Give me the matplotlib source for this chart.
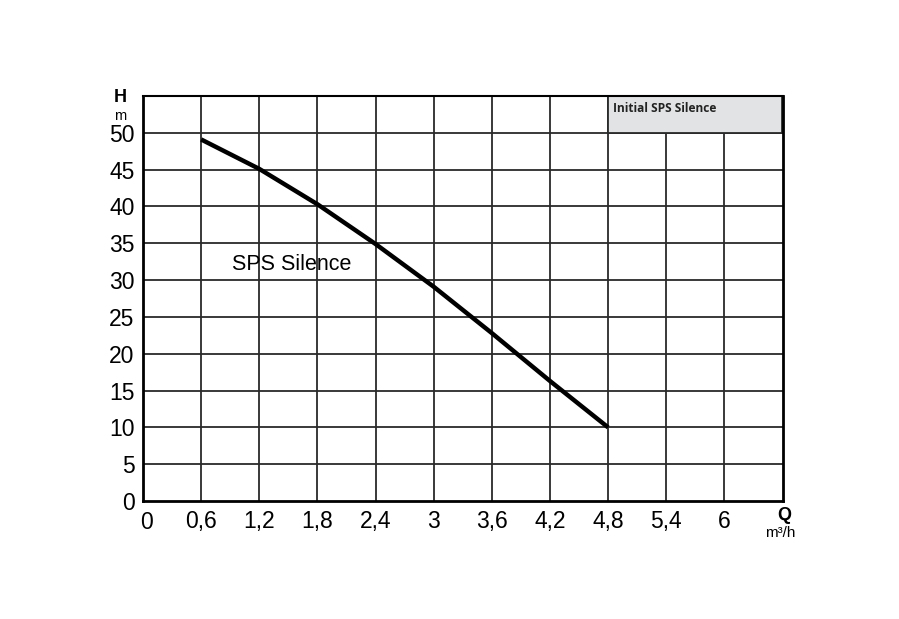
import matplotlib
matplotlib.use("Agg")
import matplotlib.pyplot as plt
from matplotlib.patches import Rectangle

# Data
flow = [0.6, 1.2, 1.8, 2.4, 3.0, 3.6, 4.2, 4.8]
head = [49.1, 45.1, 40.3, 34.9, 29.1, 22.8, 16.3, 10.0]
x_ticks = [0, 0.6, 1.2, 1.8, 2.4, 3.0, 3.6, 4.2, 4.8, 5.4, 6.0]
x_labels = ["0", "0,6", "1,2", "1,8", "2,4", "3", "3,6", "4,2", "4,8", "5,4", "6"]
y_ticks = [0, 5, 10, 15, 20, 25, 30, 35, 40, 45, 50]
y_labels = [str(v) for v in y_ticks]
series_label = "SPS Silence"
header_text = "Initial SPS Silence"

plt.rcParams['font.family'] = ['Liberation Sans', 'DejaVu Sans']

fig = plt.figure(figsize=(8.99, 6.19), dpi=100)
ax = fig.add_axes([143/899, 1-501/619, (782.5-143)/899, (501-96)/619])
ax.set_xlim(0, 6.6)
ax.set_ylim(0, 55)

grid_c = "#2a2a2a"
for xv in x_ticks[1:]:
    top = 50 if xv > 4.8 else 55
    ax.plot([xv, xv], [0, top], color=grid_c, lw=1.3, zorder=1)
for yv in y_ticks[1:]:
    ax.plot([0, 6.6], [yv, yv], color=grid_c, lw=1.3, zorder=1)

ax.add_patch(Rectangle((4.8, 50), 1.8, 5, facecolor="#e2e3e4", edgecolor=grid_c, lw=1.3, zorder=1.5))
ax.text(4.85, 53.3, header_text, fontsize=8.6, fontweight='bold', family=['Open Sans', 'DejaVu Sans'],
        va='center', ha='left', color='#222222', zorder=3)

ax.plot(flow, head, color='black', lw=3.2, solid_capstyle='butt', zorder=4)
ax.text(0.915, 32.1, series_label, fontsize=15.5, va='center', ha='left')

for s in ['left', 'bottom', 'right']:
    ax.spines[s].set_linewidth(2.0)
ax.spines['top'].set_linewidth(1.5)
for s in ax.spines.values():
    s.set_color('black')

ax.set_xticks(x_ticks)
ax.set_xticklabels([""] + x_labels[1:], fontsize=16.5)
ax.text(0.04, -1.3, x_labels[0], fontsize=16.5, ha='center', va='top', clip_on=False)
ax.set_yticks(y_ticks)
ax.set_yticklabels(y_labels, fontsize=16.5)
ax.tick_params(length=0, pad=6)
ax.tick_params(axis='x', pad=6.5)

fig.text(120/899, 1-98/619, "H", fontsize=13, fontweight='bold', ha='center', va='center')
fig.text(120/899, 1-116/619, "m", fontsize=10.5, ha='center', va='center')
fig.text(784/899, 1-516/619, "Q", fontsize=13, fontweight='bold', ha='center', va='center')
fig.text(780/899, 1-533/619, "m³/h", fontsize=11, ha='center', va='center')

fig.savefig("out.png", dpi=100)
